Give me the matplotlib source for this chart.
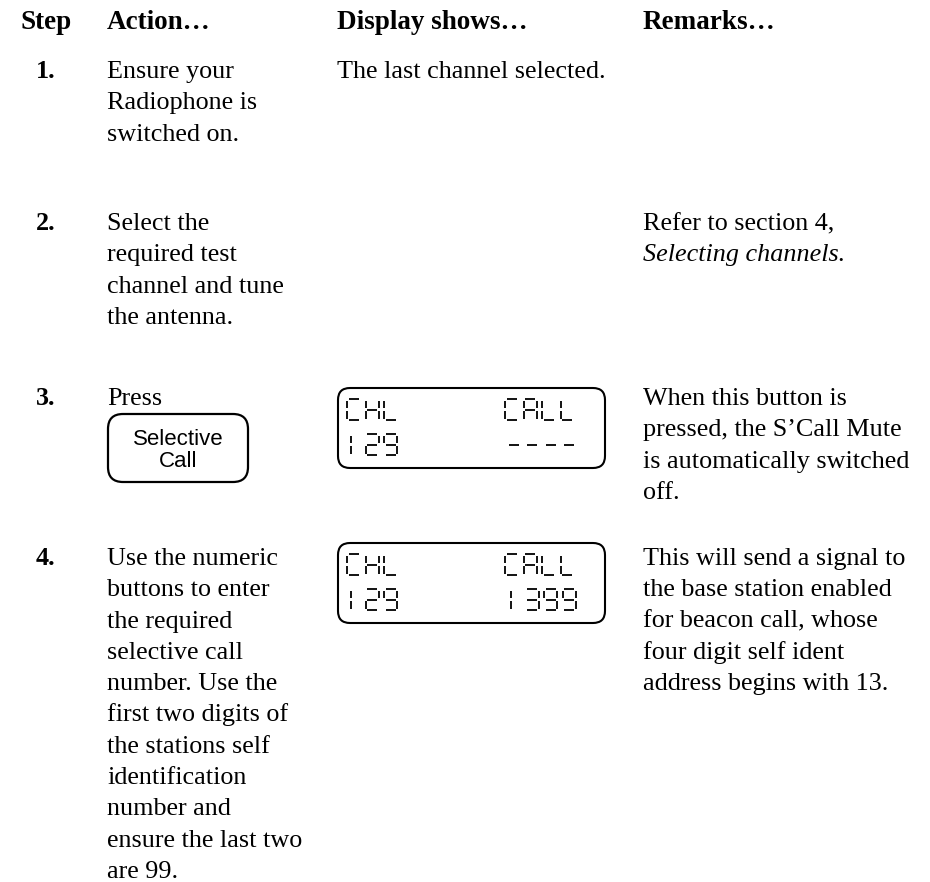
import matplotlib
matplotlib.use('Agg')
import matplotlib.pyplot as plt
from matplotlib.patches import FancyBboxPatch

# column headings and step texts
headers = ['Step', 'Action…', 'Display shows…', 'Remarks…']
steps = ['1.', '2.', '3.', '4.']
actions = [
    ['Ensure your', 'Radiophone is', 'switched on.'],
    ['Select the', 'required test', 'channel and tune', 'the antenna.'],
    ['Press'],
    ['Use the numeric', 'buttons to enter', 'the required', 'selective call',
     'number. Use the', 'first two digits of', 'the stations self',
     'identification', 'number and', 'ensure the last two', 'are 99.'],
]
display_text = ['The last channel selected.', None, None, None]
remarks = [
    [],
    ['Refer to section 4,', '$ITALIC$Selecting channels.'],
    ['When this button is', 'pressed, the S’Call Mute',
     'is automatically switched', 'off.'],
    ['This will send a signal to', 'the base station enabled',
     'for beacon call, whose', 'four digit self ident',
     'address begins with 13.'],
]
button_lines = ['Selective', 'Call']
# LCD screens: (top left, top right, bottom left, bottom right)
lcd_screens = [None, None, ('CHL', 'CALL', '129', '----'),
               ('CHL', 'CALL', '129', '1399')]

# layout (pixels)
col_x = [20, 107, 337, 643]
step_x = 36
header_y = 29
row_y = [78, 230, 405, 565]
line_h = 31.3
serif = 'Liberation Serif'
fs = 18.8
fs_head = 19.5

# seven segment glyphs ('j'/'k' = narrow "1" bar halves)
SEG = {'C': 'adef', 'H': 'bcefg', 'L': 'def', 'A': 'abcefg', '1': 'jk',
       '2': 'abdeg', '3': 'abcdg', '9': 'abcdfg', '-': 'g'}


def seg_lines(x, y, w, h):
    m = h / 2
    cx = x + 4
    return {'a': ((x, y), (x + w, y)), 'b': ((x + w, y), (x + w, y + m)),
            'c': ((x + w, y + m), (x + w, y + h)), 'd': ((x, y + h), (x + w, y + h)),
            'e': ((x, y + m), (x, y + h)), 'f': ((x, y), (x, y + m)),
            'g': ((x, y + m), (x + w, y + m)),
            'j': ((cx, y), (cx, y + m)), 'k': ((cx, y + m), (cx, y + h))}


def draw_lcd_text(ax, s, x0, y0, pitch=18.5, w=13, h=21, gap=1.5):
    for i, ch in enumerate(s):
        segs = seg_lines(x0 + i * pitch, y0, w, h)
        for k in SEG.get(ch, ''):
            (xa, ya), (xb, yb) = segs[k]
            if xa == xb:
                ya, yb = ya + gap, yb - gap
            else:
                xa, xb = xa + gap, xb - gap
            ax.plot([xa, xb], [ya, yb], color='black', lw=1.3,
                    solid_capstyle='butt')


fig = plt.figure(figsize=(9.3, 8.82), dpi=100)
ax = fig.add_axes([0, 0, 1, 1])
ax.set_xlim(0, 930)
ax.set_ylim(882, 0)
ax.axis('off')

for x, t in zip(col_x, headers):
    ax.text(x, header_y, t, fontfamily=serif, fontweight='bold',
            fontsize=fs_head, va='baseline', ha='left')

for i in range(4):
    y0 = row_y[i]
    ax.text(step_x, y0, steps[i], fontfamily=serif, fontweight='bold',
            fontsize=fs, va='baseline')
    for j, line in enumerate(actions[i]):
        ax.text(col_x[1], y0 + j * line_h, line, fontfamily=serif,
                fontsize=fs, va='baseline')
    if display_text[i]:
        ax.text(col_x[2], y0, display_text[i], fontfamily=serif,
                fontsize=fs, va='baseline')
    for j, line in enumerate(remarks[i]):
        style = 'normal'
        if line.startswith('$ITALIC$'):
            line = line[8:]
            style = 'italic'
        ax.text(col_x[3], y0 + j * line_h, line, fontfamily=serif,
                fontsize=fs, fontstyle=style, va='baseline')
    scr = lcd_screens[i]
    if scr:
        top = y0 - 17 if i == 2 else y0 - 22
        ax.add_patch(FancyBboxPatch((338, top), 267, 80,
                                    boxstyle='round,pad=0,rounding_size=12',
                                    fill=False, lw=1.5, ec='black'))
        draw_lcd_text(ax, scr[0], 347, top + 11)
        draw_lcd_text(ax, scr[1], 505, top + 11)
        draw_lcd_text(ax, scr[2], 347, top + 46)
        draw_lcd_text(ax, scr[3], 507, top + 46)

# Selective Call button below "Press"
ax.add_patch(FancyBboxPatch((108, 414), 140, 68,
                            boxstyle='round,pad=0,rounding_size=15',
                            fill=False, lw=1.6, ec='black'))
for j, t in enumerate(button_lines):
    ax.text(178, 445 + j * 22, t, fontfamily='Liberation Sans', fontsize=16,
            ha='center', va='baseline')

fig.savefig('out.png', dpi=100)
